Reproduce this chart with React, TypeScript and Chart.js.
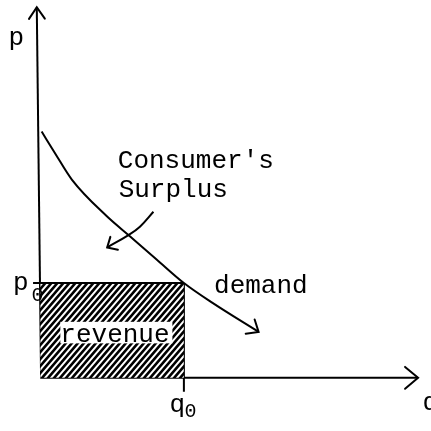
import React, { useEffect, useRef } from "react";
import { Chart, registerables } from "chart.js";

Chart.register(...registerables);

// Equilibrium point
const q0 = 5;
const p0 = 3.3;

// Demand curve (q, p)
const demandQ = [0.05, 0.52, 1.1, 2.31, 3.13, 4.05, 5.0, 6.01, 7.6];
const demandP = [8.57, 7.81, 6.9, 5.63, 4.92, 4.12, 3.3, 2.6, 1.6];

// Consumer's surplus pointer arrow (q, p)
const surplusQ = [3.94, 3.47, 3.07, 2.33];
const surplusP = [5.78, 5.26, 4.97, 4.54];

// Axes extents
const yAxisTop = 12.9;
const xAxisEnd = 13.15;
const q0TickBottom = -0.48;

// Labels
const labelTexts = ["p", "Consumer's", "Surplus", "demand", "revenue", "p", "0", "q", "0", "q"];

const FONT = '"Liberation Mono", "DejaVu Sans Mono", monospace';

function makeHatch(): CanvasPattern | string {
  const w = 6;
  const h = 7;
  const c = document.createElement("canvas");
  c.width = w;
  c.height = h;
  const g = c.getContext("2d");
  if (!g) return "#555";
  g.fillStyle = "#fff";
  g.fillRect(0, 0, w, h);
  g.strokeStyle = "#000";
  g.lineWidth = 2.6;
  g.lineCap = "square";
  for (let k = -3 * w; k <= 3 * w; k += w) {
    g.beginPath();
    g.moveTo(k, h);
    g.lineTo(k + w, 0);
    g.stroke();
  }
  const pat = g.createPattern(c, "repeat");
  return pat || "#555";
}

const arrowPlugin = {
  id: "arrowsAndText",
  afterDatasetsDraw(chart: any) {
    const ctx = chart.ctx as CanvasRenderingContext2D;
    const xs = chart.scales.x;
    const ys = chart.scales.y;
    const X = (v: number) => xs.getPixelForValue(v);
    const Y = (v: number) => ys.getPixelForValue(v);

    // arrowheads
    chart.data.datasets.forEach((ds: any, i: number) => {
      if (!ds.arrow) return;
      const meta = chart.getDatasetMeta(i);
      const pts = meta.data;
      const a = pts[pts.length - 2];
      const b = pts[pts.length - 1];
      const ang = Math.atan2(b.y - a.y, b.x - a.x);
      const len = ds.arrowLen || 13;
      const spread = ds.arrowSpread || 0.65;
      ctx.save();
      ctx.strokeStyle = "#000";
      ctx.lineWidth = 2;
      ctx.lineCap = "round";
      ctx.beginPath();
      ctx.moveTo(b.x - len * Math.cos(ang - spread), b.y - len * Math.sin(ang - spread));
      ctx.lineTo(b.x, b.y);
      ctx.lineTo(b.x - len * Math.cos(ang + spread), b.y - len * Math.sin(ang + spread));
      ctx.stroke();
      ctx.restore();
    });

    // revenue label box
    ctx.save();
    ctx.fillStyle = "#fff";
    const bx0 = X(0.7), bx1 = X(4.6), by0 = Y(1.95), by1 = Y(1.2);
    ctx.fillRect(bx0, by0, bx1 - bx0, by1 - by0);
    ctx.restore();

    const texts: [string, number, number, number][] = [
      [labelTexts[0], -1.1, 11.6, 26],
      [labelTexts[1], 2.7, 7.3, 26],
      [labelTexts[2], 2.73, 6.29, 26],
      [labelTexts[3], 6.05, 2.95, 26],
      [labelTexts[4], 0.7, 1.25, 26],
      [labelTexts[5], -0.95, 3.06, 26],
      [labelTexts[6], -0.3, 2.66, 20],
      [labelTexts[7], 4.5, -1.19, 26],
      [labelTexts[8], 5.02, -1.36, 20],
      [labelTexts[9], 13.3, -1.12, 26],
    ];
    ctx.save();
    ctx.fillStyle = "#000";
    ctx.textBaseline = "alphabetic";
    ctx.textAlign = "left";
    texts.forEach(([t, qx, py, size]) => {
      ctx.font = `${size}px ${FONT}`;
      ctx.fillText(t, X(qx), Y(py));
    });
    ctx.restore();
  },
};

export default function App() {
  const ref = useRef<HTMLCanvasElement | null>(null);

  useEffect(() => {
    if (!ref.current) return;
    const line = (data: { x: number; y: number }[], extra: any = {}) => ({
      data,
      borderColor: "#000",
      borderWidth: 2,
      pointRadius: 0,
      fill: false,
      tension: 0,
      ...extra,
    });
    const chart = new Chart(ref.current, {
      type: "line",
      data: {
        datasets: [
          line(
            [
              { x: 0, y: p0 },
              { x: q0, y: p0 },
            ],
            { fill: "origin", backgroundColor: makeHatch() }
          ),
          line([
            { x: q0, y: p0 },
            { x: q0, y: q0TickBottom },
          ]),
          line([
            { x: -0.25, y: p0 },
            { x: 0, y: p0 },
          ]),
          line(
            [
              { x: 0.03, y: 0 },
              { x: -0.12, y: yAxisTop },
            ],
            { arrow: true, arrowLen: 14, arrowSpread: 0.6 }
          ),
          line(
            [
              { x: 0, y: 0 },
              { x: xAxisEnd, y: 0 },
            ],
            { arrow: true, arrowLen: 17, arrowSpread: 0.7 }
          ),
          line(
            demandQ.map((q, i) => ({ x: q, y: demandP[i] })),
            { cubicInterpolationMode: "monotone", arrow: true, arrowLen: 13, arrowSpread: 0.7 }
          ),
          line(
            surplusQ.map((q, i) => ({ x: q, y: surplusP[i] })),
            { tension: 0.4, arrow: true, arrowLen: 11, arrowSpread: 0.75 }
          ),
        ] as any,
      },
      options: {
        animation: false,
        responsive: true,
        maintainAspectRatio: false,
        layout: { padding: 0 },
        plugins: { legend: { display: false }, tooltip: { enabled: false } },
        scales: {
          x: { type: "linear", min: -1.4, max: 13.6, display: false },
          y: { type: "linear", min: -1.85, max: 13.15, display: false },
        },
      },
      plugins: [arrowPlugin],
    });
    return () => chart.destroy();
  }, []);

  return (
    <div
      style={{
        position: "absolute",
        left: 0,
        top: 0,
        width: 431,
        height: 431,
        background: "#fff",
      }}
    >
      <canvas ref={ref} />
    </div>
  );
}
